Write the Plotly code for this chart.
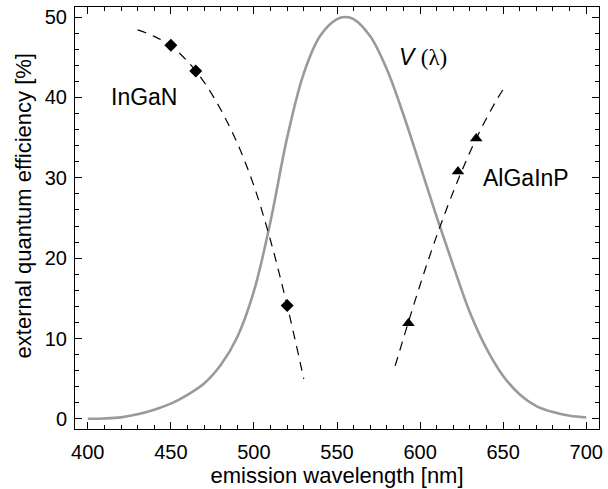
import plotly.graph_objects as go

# V(lambda) photopic curve (scaled to 50 %)
v_wl = [400, 410, 420, 430, 440, 450, 460, 470, 480, 490, 500, 510, 520, 530, 540,
        550, 555, 560, 570, 580, 590, 600, 610, 620, 630, 640, 650, 660, 670, 680, 690, 700]
v_val = [0.02, 0.06, 0.20, 0.58, 1.15, 1.90, 3.00, 4.40, 6.70, 10.2, 15.9, 24.6, 35.0,
         43.0, 47.7, 49.75, 50.0, 49.75, 47.6, 43.5, 37.85, 31.55, 25.15, 19.05, 13.25,
         8.75, 5.35, 3.05, 1.6, 0.85, 0.41, 0.2]

# InGaN data and fit
ingan_wl = [450, 465, 520]
ingan_eqe = [46.5, 43.3, 14.1]
ingan_fit_wl = [430, 440, 450, 460, 470, 480, 490, 500, 510, 520, 530]
ingan_fit_eqe = [48.4, 47.6, 46.4, 44.5, 41.9, 38.5, 34.3, 29.0, 22.2, 14.1, 5.0]

# AlGaInP data and fit
algainp_wl = [593, 622.8, 633.8]
algainp_eqe = [11.9, 30.8, 34.9]
algainp_fit_wl = [585, 595, 605, 615, 625, 635, 645, 650]
algainp_fit_eqe = [6.6, 13.4, 19.8, 25.6, 30.8, 35.4, 39.3, 41.0]

FONT = "Liberation Sans, Arial, Helvetica, sans-serif"

fig = go.Figure()
fig.add_trace(go.Scatter(x=v_wl, y=v_val, mode="lines",
                         line=dict(color="#9a9a9a", width=2.6, shape="spline"),
                         hoverinfo="skip"))
fig.add_trace(go.Scatter(x=ingan_fit_wl, y=ingan_fit_eqe, mode="lines",
                         line=dict(color="black", width=1.2, dash="9px,7px", shape="spline")))
fig.add_trace(go.Scatter(x=algainp_fit_wl, y=algainp_fit_eqe, mode="lines",
                         line=dict(color="black", width=1.2, dash="9px,7px", shape="spline")))
fig.add_trace(go.Scatter(x=ingan_wl, y=ingan_eqe, mode="markers",
                         marker=dict(symbol="diamond", size=10, color="black")))
fig.add_trace(go.Scatter(x=algainp_wl, y=algainp_eqe, mode="markers",
                         marker=dict(symbol="triangle-up", size=11, color="black")))

fig.add_annotation(x=434, y=40, text="InGaN", showarrow=False,
                   font=dict(size=23, color="black", family=FONT))
fig.add_annotation(x=664, y=30, text="AlGaInP", showarrow=False,
                   font=dict(size=23, color="black", family=FONT))
fig.add_annotation(x=602, y=45,
                   text="<i>V</i> <span style='font-family:Liberation Serif, Times New Roman, serif'>(λ)</span>",
                   showarrow=False, font=dict(size=23, color="black", family=FONT))

# y-axis title placed as a rotated annotation for precise positioning
fig.add_annotation(xref="paper", yref="paper", x=(23 - 75) / 528, y=(429 - 206) / 422,
                   xanchor="center", yanchor="middle", textangle=-90,
                   text="external quantum efficiency [%]", showarrow=False,
                   font=dict(size=22, color="black", family=FONT))

axis_common = dict(showline=True, linecolor="black", linewidth=1, mirror="allticks",
                   ticks="inside", ticklen=7, tickcolor="black", tickwidth=1,
                   showgrid=False, zeroline=False,
                   tickfont=dict(size=20, color="black", family=FONT))

fig.update_xaxes(range=[392.3, 707.7], dtick=50, tick0=400, ticklabelstandoff=5,
                 minor=dict(dtick=10, ticks="inside", ticklen=4, tickcolor="black"),
                 title=dict(text="emission wavelength [nm]", standoff=2,
                            font=dict(size=22, color="black", family=FONT)),
                 **axis_common)
fig.update_yaxes(range=[-1.25, 51.25], dtick=10, tick0=0, ticklabelstandoff=3,
                 minor=dict(dtick=2, ticks="inside", ticklen=4, tickcolor="black"),
                 **axis_common)

fig.update_layout(width=608, height=489, showlegend=False,
                  plot_bgcolor="white", paper_bgcolor="white",
                  margin=dict(l=75, r=5, t=7, b=60),
                  font=dict(family=FONT, color="black"))

fig.write_html("out.html")
